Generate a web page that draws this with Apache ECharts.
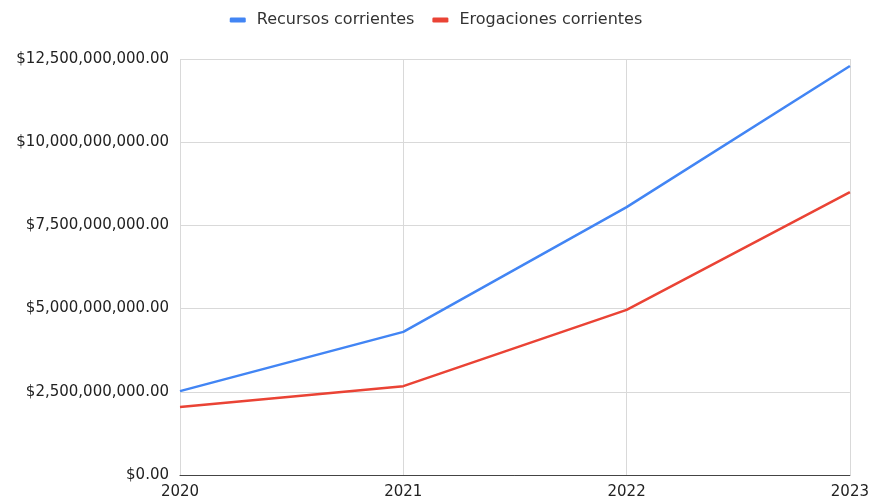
<!DOCTYPE html>
<html>
<head>
<meta charset="utf-8">
<script src="https://cdn.jsdelivr.net/npm/echarts@6/dist/echarts.min.js"></script>
<style>
  html, body { margin: 0; padding: 0; background: #fff; }
  #chart { width: 872px; height: 502px; }
</style>
</head>
<body>
<div id="chart"></div>
<script>
// Years on the horizontal axis
const years = ['2020', '2021', '2022', '2023'];

// Current resources and current expenditures (pesos)
const recursosCorrientes = [2520000000, 4300000000, 8050000000, 12290000000];
const erogacionesCorrientes = [2040000000, 2670000000, 4960000000, 8500000000];

const seriesNames = ['Recursos corrientes', 'Erogaciones corrientes'];

function formatMoney(v) {
  return '$' + v.toLocaleString('en-US', { minimumFractionDigits: 2, maximumFractionDigits: 2 });
}

const chart = echarts.init(document.getElementById('chart'));
chart.setOption({
  backgroundColor: '#ffffff',
  animation: false,
  textStyle: { fontFamily: 'DejaVu Sans, sans-serif' },
  legend: {
    top: 7,
    left: 'center',
    itemGap: 18,
    itemWidth: 16,
    itemHeight: 5,
    icon: 'roundRect',
    textStyle: { fontSize: 16, color: '#333', padding: [0, 0, 0, 6] },
    data: seriesNames
  },
  grid: { left: 180, right: 22, top: 59, bottom: 27, containLabel: false },
  xAxis: {
    type: 'category',
    data: years,
    boundaryGap: false,
    axisLine: { lineStyle: { color: '#444', width: 1 } },
    axisTick: { show: false },
    axisLabel: { fontSize: 15, color: '#222', margin: 10 },
    splitLine: { show: true, lineStyle: { color: '#d9d9d9', width: 1 } }
  },
  yAxis: {
    type: 'value',
    min: 0,
    max: 12500000000,
    interval: 2500000000,
    axisLine: { show: false },
    axisTick: { show: false },
    axisLabel: { fontSize: 15, color: '#222', margin: 11, formatter: formatMoney },
    splitLine: { lineStyle: { color: '#d9d9d9', width: 1 } }
  },
  series: [
    {
      name: seriesNames[0],
      type: 'line',
      data: recursosCorrientes,
      showSymbol: false,
      symbol: 'none',
      lineStyle: { color: '#4285F4', width: 2.5 },
      itemStyle: { color: '#4285F4' }
    },
    {
      name: seriesNames[1],
      type: 'line',
      data: erogacionesCorrientes,
      showSymbol: false,
      symbol: 'none',
      lineStyle: { color: '#EA4335', width: 2.5 },
      itemStyle: { color: '#EA4335' }
    }
  ]
});
</script>
</body>
</html>
